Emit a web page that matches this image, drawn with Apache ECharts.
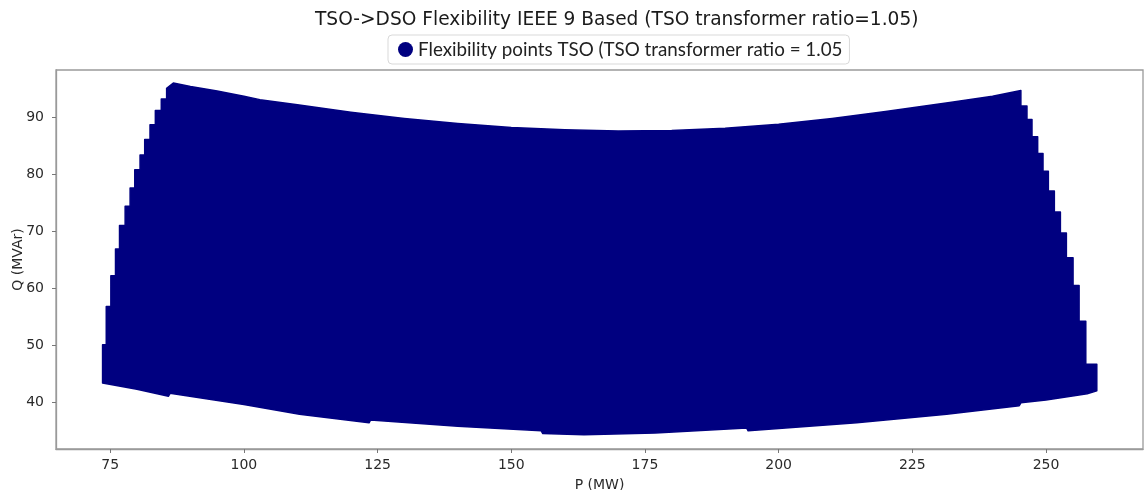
<!DOCTYPE html>
<html>
<head>
<meta charset="utf-8">
<script src="https://cdn.jsdelivr.net/npm/echarts@6/dist/echarts.min.js"></script>
<style>html,body{margin:0;padding:0;background:#fff}#c{width:1145px;height:490px}</style>
</head>
<body>
<div id="c"></div>
<script>
// Outline of the cloud of flexibility points (P in MW, Q in MVAr)
const leftStepP = [73.57, 74.26, 75.12, 75.99, 76.74, 77.79, 78.72, 79.59, 80.58, 81.45, 82.44, 83.44, 84.55, 85.55];
const leftStepQ = [43.4, 50.1, 56.8, 62.2, 66.9, 71.0, 74.4, 77.6, 80.8, 83.4, 86.1, 88.7, 91.2, 93.2, 95.1];
const topP = [86.8, 90, 95, 100, 103, 110, 120, 130, 140, 150, 160, 170, 180, 190, 200, 210, 220, 232, 240, 245.3];
const topQ = [96.0, 95.4, 94.6, 93.7, 93.1, 92.2, 90.9, 89.8, 88.9, 88.2, 87.8, 87.6, 87.7, 88.1, 88.8, 89.8, 91.0, 92.6, 93.7, 94.7];
const rightStepP = [245.3, 246.44, 247.38, 248.44, 249.44, 250.44, 251.56, 252.69, 253.81, 255.06, 256.19, 257.44, 259.5];
const rightStepQ = [94.7, 91.97, 89.62, 86.57, 83.64, 80.53, 77.07, 73.37, 69.68, 65.34, 60.47, 54.2, 46.69, 42.0];
const bottomP = [257.7, 250, 245.3, 245.0, 231.4, 214.6, 194.3, 194.0, 176.9, 163.6, 155.9, 155.6, 140, 123.7, 123.4, 110.4, 100, 86.2, 85.9, 80];
const bottomQ = [41.5, 40.4, 39.9, 39.4, 37.9, 36.4, 35.0, 35.5, 34.6, 34.3, 34.5, 35.0, 35.8, 36.9, 36.4, 37.9, 39.6, 41.6, 41.05, 42.3];
const xTicks = [75, 100, 125, 150, 175, 200, 225, 250];
const yTicks = [40, 50, 60, 70, 80, 90];
const seriesName = 'Flexibility points TSO (TSO transformer ratio = 1.05';

const outline = [];
leftStepP.forEach((p, i) => { outline.push([p, leftStepQ[i]]); outline.push([p, leftStepQ[i + 1]]); });
topP.forEach((p, i) => outline.push([p, topQ[i]]));
rightStepP.forEach((p, i) => { outline.push([p, rightStepQ[i]]); outline.push([p, rightStepQ[i + 1]]); });
bottomP.forEach((p, i) => outline.push([p, bottomQ[i]]));

const navy = '#000080';
const axisFont = { fontFamily: 'DejaVu Sans', fontSize: 14, color: '#2a2a2a' };
const chart = echarts.init(document.getElementById('c'), null, { renderer: 'canvas' });
chart.setOption({
  animation: false,
  backgroundColor: '#fff',
  title: {
    text: 'TSO->DSO Flexibility IEEE 9 Based (TSO transformer ratio=1.05)',
    left: 310, top: 6,
    textStyle: { fontFamily: 'DejaVu Sans', fontSize: 18.6, fontWeight: 'normal', color: '#1a1a1a' }
  },
  legend: {
    left: 388, top: 35,
    padding: [5, 7, 5, 10],
    borderColor: '#d9d9d9', borderWidth: 1, borderRadius: 4,
    itemWidth: 15, itemHeight: 15, itemGap: 7,
    data: [{ name: seriesName, icon: 'circle' }],
    textStyle: { fontFamily: 'Lato', fontSize: 18.8, color: '#222' }
  },
  grid: { left: 56, right: 2, top: 70, bottom: 41, containLabel: false, outerBoundsMode: 'none',
          show: true, borderColor: '#9a9a9a', borderWidth: 1.3 },
  xAxis: {
    type: 'value', min: 64.86, max: 268.14,
    name: 'P (MW)', nameLocation: 'middle', nameGap: 29, nameMoveOverlap: false,
    nameTextStyle: axisFont,
    axisLine: { show: true, lineStyle: { color: '#9a9a9a', width: 1.3 } },
    axisTick: { show: true, customValues: xTicks, length: 4, lineStyle: { color: '#777' } },
    axisLabel: { customValues: xTicks, margin: 9, ...axisFont },
    splitLine: { show: false }
  },
  yAxis: {
    type: 'value', min: 31.8, max: 98.3,
    name: 'Q (MVAr)', nameLocation: 'middle', nameGap: 31, nameMoveOverlap: false,
    nameTextStyle: axisFont,
    axisLine: { show: true, lineStyle: { color: '#9a9a9a', width: 1.3 } },
    axisTick: { show: true, customValues: yTicks, length: 4, lineStyle: { color: '#777' } },
    axisLabel: { customValues: yTicks, margin: 12, ...axisFont },
    splitLine: { show: false }
  },
  series: [{
    name: seriesName,
    type: 'custom',
    itemStyle: { color: navy },
    data: [[170, 65]],
    encode: { x: 0, y: 1 },
    renderItem: function (params, api) {
      return {
        type: 'polygon',
        shape: { points: outline.map(pt => api.coord(pt)) },
        style: { fill: navy, stroke: navy, lineWidth: 1.5, lineJoin: 'round' }
      };
    }
  }]
});
</script>
</body>
</html>
